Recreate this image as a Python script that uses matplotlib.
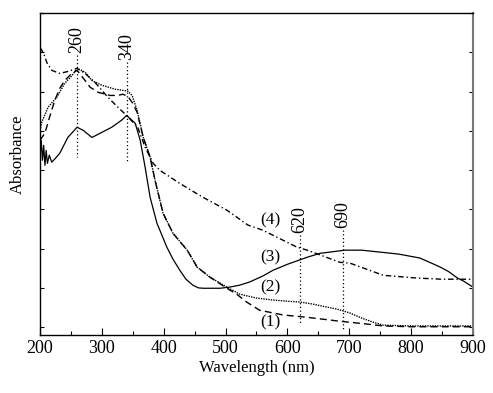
import numpy as np
import matplotlib
matplotlib.use('Agg')
import matplotlib.pyplot as plt
from matplotlib.ticker import MultipleLocator, NullFormatter

plt.rcParams['font.family'] = ['Liberation Serif', 'DejaVu Serif']

# curve (1), dashed
wl1 = [200, 208, 215, 224, 232, 240, 250, 260, 270, 281, 294, 313, 325, 334, 342,
       350, 357, 367, 378, 386, 399, 415, 438, 454, 475, 502, 518, 534, 555, 593,
       632, 685, 728, 755, 800, 900]
ab1 = [4.76, 4.94, 5.32, 5.78, 6.08, 6.28, 6.44, 6.54, 6.34, 6.11, 5.98, 5.90, 5.90,
       5.93, 5.88, 5.70, 5.47, 4.83, 4.33, 3.74, 2.90, 2.39, 1.96, 1.53, 1.27, 0.99,
       0.84, 0.64, 0.43, 0.31, 0.25, 0.15, 0.08, 0.03, 0.01, 0.01]

# curve (2), dotted
wl2 = [200, 203, 213, 227, 240, 252, 260, 273, 284, 300, 321, 334, 342, 349, 357,
       367, 378, 386, 399, 415, 438, 454, 475, 502, 523, 550, 577, 600, 620, 640,
       664, 680, 701, 720, 738, 755, 800, 900]
ab2 = [5.01, 5.22, 5.60, 5.85, 6.21, 6.41, 6.59, 6.49, 6.28, 6.16, 6.06, 6.03, 6.01,
       5.90, 5.52, 4.83, 4.33, 3.74, 2.90, 2.39, 1.96, 1.53, 1.27, 1.02, 0.84, 0.74,
       0.69, 0.66, 0.64, 0.59, 0.51, 0.46, 0.36, 0.23, 0.13, 0.05, 0.03, 0.03]

# curve (3), solid
wl3 = [200, 202, 204, 206, 208, 210, 212, 215, 219, 225, 232, 245, 260, 270, 284,
       300, 316, 332, 340, 354, 362, 370, 378, 389, 405, 415, 426, 436, 447, 456,
       464, 491, 507, 523, 539, 560, 577, 600, 632, 653, 693, 720, 750, 780, 814,
       830, 847, 860, 875, 885, 900]
ab3 = [4.33, 4.76, 4.25, 4.63, 4.12, 4.50, 4.17, 4.38, 4.20, 4.30, 4.43, 4.83, 5.09,
       5.01, 4.83, 4.96, 5.09, 5.27, 5.39, 5.19, 4.76, 4.07, 3.31, 2.65, 2.04, 1.73,
       1.45, 1.22, 1.07, 1.00, 0.99, 0.99, 1.02, 1.07, 1.15, 1.30, 1.45, 1.60, 1.78,
       1.88, 1.96, 1.96, 1.91, 1.86, 1.76, 1.65, 1.53, 1.42, 1.25, 1.17, 1.02]

# curve (4), dash-dot
wl4 = [200, 203, 207, 211, 219, 232, 245, 260, 273, 289, 310, 326, 340, 358, 370,
       383, 394, 426, 463, 502, 536, 560, 615, 632, 685, 701, 755, 809, 850, 900]
ab4 = [7.12, 7.05, 6.92, 6.74, 6.54, 6.46, 6.51, 6.59, 6.46, 6.23, 5.85, 5.60, 5.39,
       5.09, 4.58, 4.17, 3.99, 3.66, 3.31, 2.98, 2.60, 2.47, 2.04, 1.96, 1.65, 1.63,
       1.32, 1.25, 1.22, 1.22]

# marked wavelengths: (nm, line top, line bottom)
peaks = [260, 340, 620, 690]
peak_top = [6.92, 6.74, 2.34, 2.47]
peak_bottom = [4.33, 4.20, 0.05, -0.10]

curve_labels = ['(1)', '(2)', '(3)', '(4)']
label_y = [0.12, 1.02, 1.78, 2.73]
label_x = 572

fig = plt.figure(figsize=(4.93, 3.93), dpi=100)
ax = fig.add_axes([0.0811, 0.1476, 0.8783, 0.8194])

ax.plot(wl1, ab1, color='black', lw=1.0, ls=(0, (5, 3)))
ax.plot(wl2, ab2, color='black', lw=1.0, ls=(0, (1, 0.8)))
ax.plot(wl3, ab3, color='black', lw=0.9, ls='-')
ax.plot(wl4, ab4, color='black', lw=1.0, ls=(0, (4, 2, 1, 2)))

for x, y0, y1 in zip(peaks, peak_top, peak_bottom):
    ax.plot([x, x], [y0, y1], color='black', lw=0.9, ls=(0, (1, 2)))
    ax.text(x, y0 + 0.05, str(x), rotation=90, ha='center', va='bottom',
            fontsize=13)

for lab, y in zip(curve_labels, label_y):
    ax.text(label_x, y, lab, ha='center', va='center', fontsize=12.5)

ax.set_xlim(200, 900)
ax.set_ylim(-0.2, 8.0)
ax.xaxis.set_major_locator(MultipleLocator(100))
ax.xaxis.set_minor_locator(MultipleLocator(50))
ax.yaxis.set_major_locator(MultipleLocator(1))
ax.yaxis.set_major_formatter(NullFormatter())
ax.tick_params(axis='x', which='major', direction='in', length=5, width=0.8,
               labelsize=13, top=False)
ax.tick_params(axis='x', which='minor', direction='in', length=3, width=0.8,
               top=False)
ax.tick_params(axis='y', which='major', direction='in', length=3, width=0.8,
               left=True, right=True)

for side in ['left', 'bottom', 'top']:
    ax.spines[side].set_linewidth(1.0)
ax.spines['right'].set_linewidth(1.5)
ax.spines['right'].set_color('#777777')

ax.set_xlabel('Wavelength (nm)', fontsize=12, labelpad=2)
ax.set_ylabel('Absorbance', fontsize=12)
ax.yaxis.set_label_coords(-0.033, 0.562)

fig.savefig('out.png', dpi=100)
